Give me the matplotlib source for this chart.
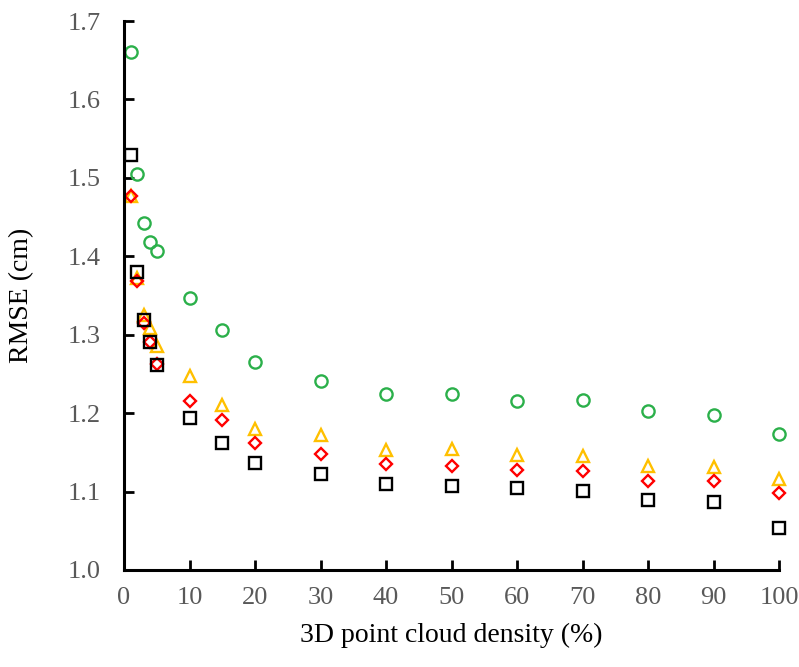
import matplotlib.pyplot as plt

# point cloud density (%)
density = [1, 2, 3, 4, 5, 10, 15, 20, 30, 40, 50, 60, 70, 80, 90, 100]

# RMSE (cm) per series
rmse_green = [1.660, 1.505, 1.443, 1.418, 1.407, 1.347, 1.306, 1.265, 1.241,
              1.225, 1.225, 1.215, 1.217, 1.203, 1.197, 1.173]
rmse_yellow = [1.477, 1.372, 1.325, 1.308, 1.285, 1.247, 1.210, 1.180, 1.172,
               1.153, 1.154, 1.147, 1.145, 1.132, 1.131, 1.116]
rmse_red = [1.477, 1.368, 1.315, 1.291, 1.263, 1.216, 1.191, 1.162, 1.148,
            1.135, 1.132, 1.128, 1.126, 1.114, 1.114, 1.098]
rmse_black = [1.529, 1.380, 1.319, 1.291, 1.261, 1.194, 1.162, 1.136, 1.122,
              1.110, 1.107, 1.104, 1.101, 1.089, 1.087, 1.054]

xticks = list(range(0, 101, 10))
yticks = [1.0, 1.1, 1.2, 1.3, 1.4, 1.5, 1.6, 1.7]

plt.rcParams['font.family'] = ['Liberation Serif', 'DejaVu Serif']

fig = plt.figure(figsize=(7.99, 6.67), dpi=100)
ax = fig.add_axes([124 / 799, 97 / 667, 655 / 799, 549 / 667])

# one call per series: green circles, yellow triangles, red diamonds, black squares
ax.plot(density, rmse_green, linestyle='none', marker='o', ms=8.8,
        mfc='none', mec='#2BB04A', mew=1.7, clip_on=False)
ax.plot(density, rmse_yellow, linestyle='none', marker='^', ms=9.2,
        mfc='none', mec='#FFC000', mew=1.7, clip_on=False)
ax.plot(density, rmse_red, linestyle='none', marker='D', ms=6.6,
        mfc='none', mec='#FF0000', mew=1.7, clip_on=False)
ax.plot(density, rmse_black, linestyle='none', marker='s', ms=8.5,
        mfc='none', mec='black', mew=1.7, clip_on=False)

ax.set_xlim(0, 100)
ax.set_ylim(1.0, 1.7)
ax.set_xticks(xticks)
ax.set_yticks(yticks)
ax.set_yticklabels(['%.1f' % v for v in yticks])

for s in ['top', 'right']:
    ax.spines[s].set_visible(False)
for s in ['left', 'bottom']:
    ax.spines[s].set_linewidth(2.2)
    ax.spines[s].set_color('black')

ax.tick_params(direction='in', length=7, width=2, color='black',
               labelsize=19, labelcolor='#595959')
ax.tick_params(axis='x', pad=12.5)
ax.tick_params(axis='y', pad=17)

ax.set_xlabel('3D point cloud density (%)', fontsize=20, labelpad=10)
ax.set_ylabel('RMSE (cm)', fontsize=20, labelpad=24)

fig.savefig('out.png', dpi=100)
